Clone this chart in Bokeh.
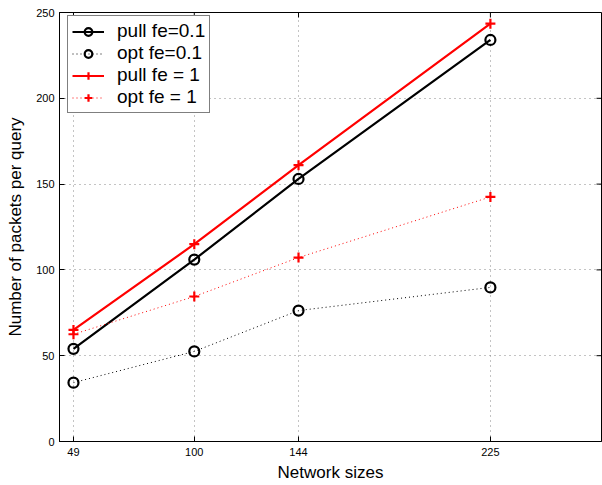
import math
from bokeh.plotting import figure
from bokeh.models import FixedTicker, Range1d, Legend, LegendItem
from bokeh.embed import file_html
from bokeh.resources import INLINE

sizes = [49, 100, 144, 225]
pull_01 = [54, 106, 153, 234]
opt_01 = [34.3, 52.5, 76.3, 89.8]
pull_1 = [65, 115, 161, 243.5]
opt_1 = [62.5, 84.5, 107.2, 142.5]
x_ticks = [49, 100, 144, 225]
y_ticks = [0, 50, 100, 150, 200, 250]
x_lim = (43.1, 271.9)
y_lim = (0, 250)

FONT = "Liberation Sans"

p = figure(width=602, height=485, output_backend="svg", toolbar_location=None,
           x_range=Range1d(*x_lim), y_range=Range1d(*y_lim),
           min_border_left=59, min_border_right=1, min_border_top=12, min_border_bottom=44)
p.outline_line_color = "black"
p.outline_line_width = 1
p.background_fill_color = "white"
p.border_fill_color = "white"

for ax in [p.xaxis[0], p.yaxis[0]]:
    ax.major_tick_in = 5
    ax.major_tick_out = 0
    ax.minor_tick_line_color = None
    ax.axis_line_color = "black"
    ax.major_tick_line_color = "black"
    ax.major_label_text_font = FONT
    ax.major_label_text_font_size = "11px"
    ax.major_label_text_color = "black"
    ax.axis_label_text_font = FONT
    ax.axis_label_text_font_size = "17px"
    ax.axis_label_text_font_style = "normal"
    ax.axis_label_text_color = "black"

p.xaxis[0].ticker = FixedTicker(ticks=x_ticks)
p.yaxis[0].ticker = FixedTicker(ticks=y_ticks)
p.xaxis[0].axis_label = "Network sizes"
p.yaxis[0].axis_label = "Number of packets per query"
p.xaxis[0].major_label_standoff = 6
p.yaxis[0].major_label_standoff = 5
p.xaxis[0].axis_label_standoff = 4
p.yaxis[0].axis_label_standoff = 8

# inward tick marks on the top and right edges of the frame (MATLAB box style)
p.ray(x=x_ticks, y=[y_lim[1]] * len(x_ticks), length=5, length_units="screen",
      angle=-math.pi / 2, line_color="black", line_width=1)
p.ray(x=[x_lim[1]] * len(y_ticks), y=y_ticks, length=5, length_units="screen",
      angle=math.pi, line_color="black", line_width=1)

p.xgrid.ticker = FixedTicker(ticks=x_ticks)
p.ygrid.ticker = FixedTicker(ticks=y_ticks)
for g in [p.xgrid[0], p.ygrid[0]]:
    g.grid_line_color = "#888888"
    g.grid_line_dash = "1 4"
    g.grid_line_width = 1

l1 = p.line(sizes, pull_01, line_color="black", line_width=2.2)
m1 = p.scatter(sizes, pull_01, marker="circle", size=10, fill_color=None, line_color="black", line_width=2.2)
l2 = p.line(sizes, opt_01, line_color="black", line_width=1, line_dash="1 3")
m2 = p.scatter(sizes, opt_01, marker="circle", size=10, fill_color=None, line_color="black", line_width=2.2)
l3 = p.line(sizes, pull_1, line_color="red", line_width=2.2)
m3 = p.scatter(sizes, pull_1, marker="cross", size=10, line_color="red", line_width=2.2)
l4 = p.line(sizes, opt_1, line_color="red", line_width=1, line_dash="1 3")
m4 = p.scatter(sizes, opt_1, marker="cross", size=10, line_color="red", line_width=2.2)

legend = Legend(items=[
    LegendItem(label="pull fe=0.1", renderers=[l1, m1]),
    LegendItem(label="opt fe=0.1", renderers=[l2, m2]),
    LegendItem(label="pull fe = 1", renderers=[l3, m3]),
    LegendItem(label="opt fe = 1", renderers=[l4, m4]),
], location=(8, 328))
legend.label_text_font = FONT
legend.label_text_font_size = "19px"
legend.label_text_color = "black"
legend.border_line_color = "black"
legend.border_line_width = 1
legend.background_fill_alpha = 1
legend.glyph_width = 32
legend.glyph_height = 19
legend.label_height = 19
legend.spacing = 0
legend.padding = 4
legend.margin = 0
legend.label_standoff = 13
legend.label_text_baseline = "middle"
p.add_layout(legend)

open("out.html", "w").write(file_html(p, INLINE))
